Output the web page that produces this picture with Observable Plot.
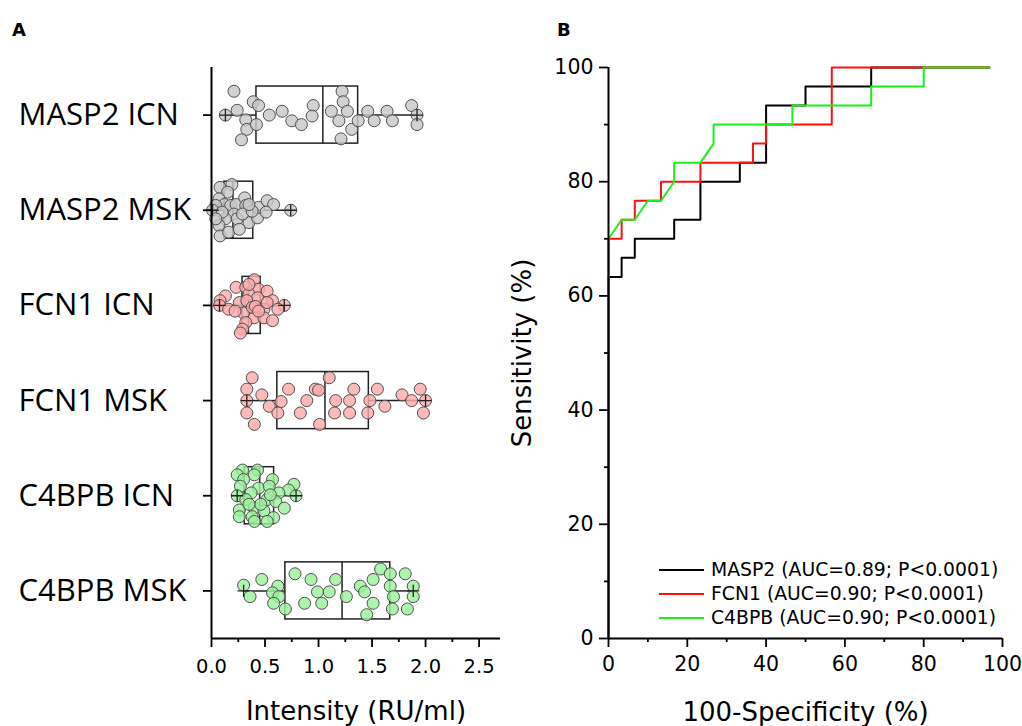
<!DOCTYPE html>
<html><head><meta charset="utf-8">
<script src="https://cdn.jsdelivr.net/npm/d3@7"></script>
<script src="https://cdn.jsdelivr.net/npm/@observablehq/plot@0.6"></script>
<style>
body{margin:0;background:#fff;}
#wrap{position:relative;width:1022px;height:726px;overflow:hidden;font-family:"DejaVu Sans",sans-serif;background:#fff;}
.panel{position:absolute;top:0;}
.tag{position:absolute;font-weight:bold;font-size:18px;color:#000;}
#legend{position:absolute;left:659px;top:558px;font-size:18.8px;line-height:24px;color:#000;}
#legend .row{display:flex;align-items:center;height:24px;white-space:nowrap;}
#legend svg{margin-right:7px;}
</style></head><body>
<div id="wrap">
 <div class="panel" id="pa" style="left:0"></div>
 <div class="panel" id="pb" style="left:500px"></div>
 <div class="tag" style="left:12px;top:19px">A</div>
 <div class="tag" style="left:557px;top:19px">B</div>
 <div id="legend"></div>
</div>
<script>
// ---------- Panel A data ----------
const groups = ["MASP2 ICN","MASP2 MSK","FCN1 ICN","FCN1 MSK","C4BPB ICN","C4BPB MSK"];
const q1     = [0.42, 0.12, 0.29, 0.615, 0.31, 0.69];
const median = [1.04, 0.20, 0.345, 1.06, 0.45, 1.22];
const q3     = [1.37, 0.39, 0.46, 1.47, 0.585, 1.67];
const whiskerLow  = [0.13, 0.01, 0.075, 0.33, 0.24, 0.30];
const whiskerHigh = [1.92, 0.74, 0.68, 2.00, 0.79, 1.885];
const xTicksA = [0, 0.5, 1, 1.5, 2, 2.5];
const xMinorA = [0.25, 0.75, 1.25, 1.75, 2.25];

const masp2IcnValues = [0.21,0.13,0.24,0.32,0.33,0.28,0.39,0.44,0.42,0.54,0.66,0.75,0.84,0.95,0.94,1.12,1.22,1.23,1.27,1.19,1.31,1.21,1.37,1.46,1.52,1.64,1.69,1.87,1.92,1.92];
const masp2IcnJitter = [-0.25,0,-0.05,0.05,0.15,0.26,-0.14,-0.1,0.1,0,-0.04,0.06,0.1,-0.1,0.01,-0.04,-0.25,-0.14,-0.04,0.06,0.15,0.25,0.06,-0.04,0.06,-0.04,0.06,-0.1,0,0.1];
const masp2MskValues = [0.08,0.19,0.15,0.07,0.12,0.18,0.23,0.31,0.32,0.04,0.21,0.24,0.13,0.07,0.08,0.16,0.35,0.43,0.44,0.52,0.58,0.51,0.01,0.74,0.10,0.29,0.38,0.04,0.26,0.35];
const masp2MskJitter = [-0.24,-0.27,-0.19,-0.12,-0.06,-0.05,-0.06,-0.13,-0.05,-0.05,0.04,0.09,0.09,0.16,0.27,0.23,0.13,0.08,-0.03,-0.1,-0.06,0.02,0,0,0.02,0.04,0.01,0.09,0.2,-0.06];
const fcn1IcnValues = [0.40,0.23,0.32,0.44,0.52,0.13,0.35,0.43,0.57,0.08,0.26,0.33,0.68,0.075,0.16,0.49,0.62,0.30,0.40,0.49,0.57,0.32,0.29,0.38,0.22,0.41,0.52,0.27,0.35,0.44];
const fcn1IcnJitter = [-0.27,-0.19,-0.19,-0.17,-0.15,-0.1,-0.12,-0.08,-0.05,-0.05,-0.03,-0.05,0,0,0.04,0.04,0.04,0.08,0.13,0.13,0.16,0.18,0.25,0.02,0.06,0.01,-0.03,0.29,-0.22,0.06];
const fcn1MskValues = [0.38,0.33,0.47,0.33,0.54,0.33,0.40,0.65,0.62,0.72,0.89,0.83,0.97,1.00,1.10,1.01,1.16,1.15,1.29,1.33,1.29,1.46,1.48,1.55,1.62,1.78,1.87,1.95,2.00,1.98];
const fcn1MskJitter = [-0.24,-0.12,-0.06,0,0.06,0.13,0.25,0.01,0.13,-0.12,0,0.13,-0.12,-0.11,-0.24,0.25,0,0.13,0,-0.12,0.13,0.13,0,-0.12,0.06,-0.06,0,-0.12,0,0.13];
const c4bpbIcnValues = [0.29,0.43,0.24,0.40,0.30,0.57,0.27,0.77,0.44,0.54,0.72,0.37,0.63,0.24,0.79,0.32,0.52,0.60,0.26,0.40,0.49,0.68,0.26,0.38,0.58,0.40,0.52,0.46,0.35,0.55];
const c4bpbIcnJitter = [-0.27,-0.27,-0.22,-0.22,-0.17,-0.17,-0.1,-0.12,-0.08,-0.1,-0.06,-0.03,-0.03,0,0,0.04,0.04,0.06,0.15,0.13,0.16,0.13,0.22,0.22,0.23,0.27,0.27,0.09,0.09,-0.01];
const c4bpbMskValues = [0.30,0.36,0.47,0.62,0.57,0.63,0.58,0.69,0.78,0.87,0.93,0.99,1.03,1.10,1.16,1.26,1.39,1.43,1.51,1.51,1.45,1.58,1.67,1.67,1.70,1.69,1.81,1.885,1.885,1.83];
const c4bpbMskJitter = [-0.06,0.06,-0.12,-0.05,0.02,0.06,0.13,0.19,-0.18,0.13,-0.12,0.01,0.13,0.01,-0.12,0.06,-0.05,0.01,-0.12,0.13,0.25,-0.23,-0.18,-0.05,0.06,0.19,-0.18,-0.05,0.06,0.19];

const values = [masp2IcnValues, masp2MskValues, fcn1IcnValues, fcn1MskValues, c4bpbIcnValues, c4bpbMskValues];
const jitters = [masp2IcnJitter, masp2MskJitter, fcn1IcnJitter, fcn1MskJitter, c4bpbIcnJitter, c4bpbMskJitter];

// ---------- Panel B data ----------
const masp2Fpr  = [0,0,3.33,3.33,6.67,6.67,16.67,16.67,23.33,23.33,33.33,33.33,40,40,50,50,66.67,66.67,96.67];
const masp2Sens = [0,63.33,63.33,66.67,66.67,70,70,73.33,73.33,80,80,83.33,83.33,93.33,93.33,96.67,96.67,100,100];
const fcn1Fpr   = [0,0,3.33,3.33,6.67,6.67,13.33,13.33,23.33,23.33,36.67,36.67,40,40,56.67,56.67,96.67];
const fcn1Sens  = [0,70,70,73.33,73.33,76.67,76.67,80,80,83.33,83.33,86.67,86.67,90,90,100,100];
const c4bpbFpr  = [0,0,3.33,6.67,10,13.33,16.67,16.67,23.33,26.67,26.67,46.67,46.67,66.67,66.67,80,80,96.67];
const c4bpbSens = [0,70,73.33,73.33,76.67,76.67,80,83.33,83.33,86.67,90,90,93.33,93.33,96.67,96.67,100,100];
const rocNames = ["MASP2","FCN1","C4BPB"];
const rocLabels = ["MASP2 (AUC=0.89; P<0.0001)","FCN1 (AUC=0.90; P<0.0001)","C4BPB (AUC=0.90; P<0.0001)"];
const xTicksB = [0,20,40,60,80,100];
const xMinorB = [10,30,50,70,90];

// ---------- styles ----------
const dotFills = ["#c8c8c8","#c8c8c8","#fbabab","#fbabab","#9cf09c","#9cf09c"];
const rocColors = ["#000000","#ff1010","#18f018"];
const sans = "DejaVu Sans, sans-serif";

// ---------- Panel A ----------
const yDomainA = [-0.5, 5.5];
const rowsA = groups.map((g, i) => ({g, i, q1: q1[i], med: median[i], q3: q3[i], lo: whiskerLow[i], hi: whiskerHigh[i]}));
const pts = groups.flatMap((g, i) => values[i].map((v, k) => ({i, v, j: jitters[i][k]})));
const halfBox = 0.3;

const plotA = Plot.plot({
  width: 520, height: 726,
  marginLeft: 211, marginRight: 20, marginTop: 67, marginBottom: 88,
  x: {domain: [0, 2.7], label: null},
  y: {domain: yDomainA, reverse: true, label: null},
  color: {type: "identity"},
  style: {fontFamily: sans, color: "#000", background: "transparent", overflow: "visible"},
  marks: [
    Plot.ruleY(rowsA, {y: "i", x1: "lo", x2: "q1", stroke: "#222", strokeWidth: 1.5}),
    Plot.ruleY(rowsA, {y: "i", x1: "q3", x2: "hi", stroke: "#222", strokeWidth: 1.5}),
    Plot.rect(rowsA, {x1: "q1", x2: "q3", y1: d => d.i - halfBox, y2: d => d.i + halfBox, fill: "none", stroke: "#222", strokeWidth: 1.5}),
    Plot.ruleX(rowsA, {x: "med", y1: d => d.i - halfBox, y2: d => d.i + halfBox, stroke: "#222", strokeWidth: 1.5}),
    Plot.dot(pts, {x: "v", y: d => d.i + d.j, r: 6, fill: d => dotFills[d.i], fillOpacity: 0.82, stroke: "#505050", strokeWidth: 1}),
    Plot.dot(rowsA, {x: "lo", y: "i", symbol: "plus", r: 4, stroke: "#222", strokeWidth: 1.3}),
    Plot.dot(rowsA, {x: "hi", y: "i", symbol: "plus", r: 4, stroke: "#222", strokeWidth: 1.3}),
    Plot.ruleX([0], {strokeWidth: 2, stroke: "#000"}),
    Plot.ruleY([yDomainA[1]], {strokeWidth: 2, stroke: "#000"}),
    Plot.axisX(xTicksA, {label: null, tickSize: 9, tickPadding: 12, tickFormat: d3.format(".1f"), fontSize: 19.5, strokeWidth: 1.8}),
    Plot.axisX(xMinorA, {label: null, tickSize: 4, tickFormat: () => "", strokeWidth: 1.8}),
    Plot.axisY(d3.range(groups.length), {label: null, tickSize: 8, tickPadding: 185, textAnchor: "start", tickFormat: i => groups[i], fontSize: 31, fontFamily: "Open Sans", strokeWidth: 1.8}),
    Plot.text(["Intensity (RU/ml)"], {text: d => d, frameAnchor: "bottom", lineAnchor: "middle", dy: 73, fontSize: 26})
  ]
});
document.getElementById("pa").appendChild(plotA);

// ---------- Panel B ----------
const rocSeries = [[masp2Fpr, masp2Sens], [fcn1Fpr, fcn1Sens], [c4bpbFpr, c4bpbSens]];
const rocData = rocSeries.map(([xs, ys], s) => xs.map((x, k) => ({s, x, y: ys[k]})));

const plotB = Plot.plot({
  width: 522, height: 726,
  marginLeft: 108, marginRight: 20, marginTop: 67, marginBottom: 88,
  x: {domain: [0, 100], label: null},
  y: {domain: [0, 100], label: null},
  style: {fontFamily: sans, color: "#000", background: "transparent", overflow: "visible"},
  marks: [
    ...rocData.map((d, s) => Plot.line(d, {x: "x", y: "y", stroke: rocColors[s], strokeWidth: 2, curve: "linear"})),
    Plot.ruleX([0], {strokeWidth: 2, stroke: "#000"}),
    Plot.ruleY([0], {strokeWidth: 2, stroke: "#000"}),
    Plot.axisX(xTicksB, {label: null, tickSize: 9, tickPadding: 9, fontSize: 20.5, strokeWidth: 1.8}),
    Plot.axisX(xMinorB, {label: null, tickSize: 4, tickFormat: () => "", strokeWidth: 1.8}),
    Plot.axisY(xTicksB, {label: null, tickSize: 9, tickPadding: 6, fontSize: 20.5, strokeWidth: 1.8}),
    Plot.axisY(xMinorB, {label: null, tickSize: 4, tickFormat: () => "", strokeWidth: 1.8}),
    Plot.text(["100-Specificity (%)"], {text: d => d, frameAnchor: "bottom", lineAnchor: "middle", dy: 74, fontSize: 26}),
    Plot.text(["Sensitivity (%)"], {text: d => d, frameAnchor: "left", textAnchor: "middle", lineAnchor: "middle", rotate: -90, dx: -86, fontSize: 26})
  ]
});
document.getElementById("pb").appendChild(plotB);

// ---------- Legend ----------
const legend = document.getElementById("legend");
rocNames.forEach((n, s) => {
  const row = document.createElement("div");
  row.className = "row";
  row.innerHTML = `<svg width="45" height="4"><line x1="0" x2="45" y1="2" y2="2" stroke="${rocColors[s]}" stroke-width="2"/></svg><span>${rocLabels[s].replace("<", "&lt;")}</span>`;
  legend.appendChild(row);
});
</script>
</body></html>
